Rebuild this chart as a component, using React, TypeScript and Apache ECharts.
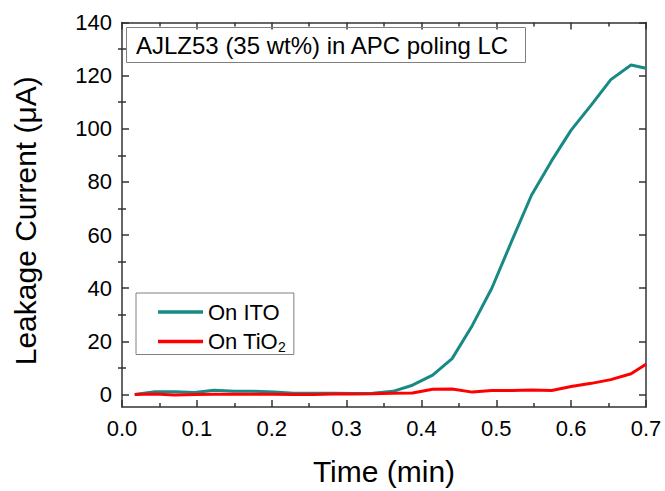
import { useEffect, useRef } from 'react';
import * as echarts from 'echarts';

const times = [0.017, 0.044, 0.070, 0.097, 0.123, 0.150, 0.176, 0.203, 0.229, 0.256, 0.282, 0.309, 0.335, 0.362, 0.388, 0.415, 0.441, 0.468, 0.494, 0.521, 0.547, 0.574, 0.600, 0.627, 0.653, 0.680, 0.700];
const itoCurrent = [0, 1.0, 1.0, 0.8, 1.6, 1.2, 1.2, 0.9, 0.5, 0.5, 0.5, 0.4, 0.5, 1.2, 3.5, 7.3, 13.5, 26, 40, 58, 75, 88, 99.5, 109, 118.5, 124, 122.8];
const tio2Current = [0, 0.2, -0.2, 0, 0.1, 0.1, 0.1, 0.1, 0, 0, 0.2, 0.2, 0.3, 0.5, 0.6, 2.0, 2.1, 0.9, 1.5, 1.5, 1.7, 1.5, 3.0, 4.2, 5.6, 7.8, 11.4];
const seriesNames = ['On ITO', 'On TiO2'];
const seriesColors = ['#178a85', '#ff0000'];
const yMajorTicks = [0, 20, 40, 60, 80, 100, 120, 140];
const yMinorTicks = [10, 30, 50, 70, 90, 110, 130];
const titleText = 'AJLZ53 (35 wt%) in APC poling LC';
const xTitle = 'Time (min)';
const yTitle = 'Leakage Current (μA)';

const FONT = '"Liberation Sans", Arial, Helvetica, sans-serif';

export default function App() {
  const ref = useRef<HTMLDivElement>(null);
  useEffect(() => {
    if (!ref.current) return;
    const chart = echarts.init(ref.current, null, { renderer: 'svg' });
    const lineStyle = { color: '#333333', width: 1.5 };
    const xBase: any = {
      type: 'value', min: 0, max: 0.7, interval: 0.1,
      axisLine: { show: true, onZero: false, lineStyle },
      axisTick: { show: true, inside: true, length: 7, lineStyle },
      minorTick: { show: true, splitNumber: 2, length: 4, lineStyle },
      splitLine: { show: false }, minorSplitLine: { show: false },
    };
    const yBase: any = {
      type: 'value', min: -4.7, max: 140,
      splitLine: { show: false },
    };
    const toData = (vals: number[]) => times.map((t, i) => [t, vals[i]]);
    chart.setOption({
      animation: false,
      backgroundColor: '#ffffff',
      title: {
        text: titleText, left: 126, top: 27,
        padding: [6, 16, 6, 10], borderColor: '#808080', borderWidth: 1,
        textStyle: { fontSize: 24, fontWeight: 'normal', color: '#000', fontFamily: FONT, lineHeight: 24 },
      },
      legend: {
        orient: 'vertical', left: 136, top: 293,
        padding: [7, 8, 1, 22], itemGap: 5.5, itemWidth: 45, itemHeight: 3.5,
        borderColor: '#808080', borderWidth: 1, icon: 'rect',
        data: seriesNames,
        formatter: (name: string) => (name === 'On TiO2' ? 'On TiO{sub|2}' : name),
        textStyle: {
          fontSize: 22, lineHeight: 24, color: '#000', fontFamily: FONT,
          rich: { sub: { fontSize: 14, lineHeight: 14, verticalAlign: 'bottom', fontFamily: FONT, color: '#000' } },
        },
      },
      grid: { left: 122, right: 19, top: 22.5, bottom: 81, containLabel: false },
      xAxis: [
        {
          ...xBase, position: 'bottom',
          name: xTitle, nameLocation: 'middle', nameGap: 49,
          nameTextStyle: { fontSize: 30, color: '#000', fontFamily: FONT },
          axisLabel: { show: true, fontSize: 22, margin: 10, color: '#000', fontFamily: FONT, formatter: (v: number) => v.toFixed(1) },
        },
        { ...xBase, position: 'top', axisLabel: { show: false } },
      ],
      yAxis: [
        {
          ...yBase, position: 'left',
          axisLine: { show: true, onZero: false, lineStyle },
          axisTick: { show: true, inside: true, length: 7, lineStyle, customValues: yMajorTicks },
          axisLabel: { show: true, customValues: yMajorTicks, fontSize: 22, margin: 10, color: '#000', fontFamily: FONT },
          name: yTitle, nameLocation: 'middle', nameGap: 82,
          nameTextStyle: { fontSize: 30, color: '#000', fontFamily: FONT, padding: [0, 12, 0, 0] },
        },
        {
          ...yBase, position: 'left',
          axisLine: { show: false },
          axisTick: { show: true, inside: true, length: 4, lineStyle, customValues: yMinorTicks },
          axisLabel: { show: false },
        },
        {
          ...yBase, position: 'right',
          axisLine: { show: true, onZero: false, lineStyle },
          axisTick: { show: true, inside: true, length: 7, lineStyle, customValues: yMajorTicks },
          axisLabel: { show: false },
        },
        {
          ...yBase, position: 'right',
          axisLine: { show: false },
          axisTick: { show: true, inside: true, length: 4, lineStyle, customValues: yMinorTicks },
          axisLabel: { show: false },
        },
      ],
      series: [
        {
          name: seriesNames[0], type: 'line', xAxisIndex: 0, yAxisIndex: 0,
          data: toData(itoCurrent), symbol: 'none', clip: true,
          itemStyle: { color: seriesColors[0] },
          lineStyle: { color: seriesColors[0], width: 3 },
        },
        {
          name: seriesNames[1], type: 'line', xAxisIndex: 0, yAxisIndex: 0,
          data: toData(tio2Current), symbol: 'none', clip: true,
          itemStyle: { color: seriesColors[1] },
          lineStyle: { color: seriesColors[1], width: 3 },
        },
      ],
    });
    return () => chart.dispose();
  }, []);
  return <div ref={ref} style={{ position: 'fixed', left: 0, top: 0, width: 665, height: 491 }} />;
}
